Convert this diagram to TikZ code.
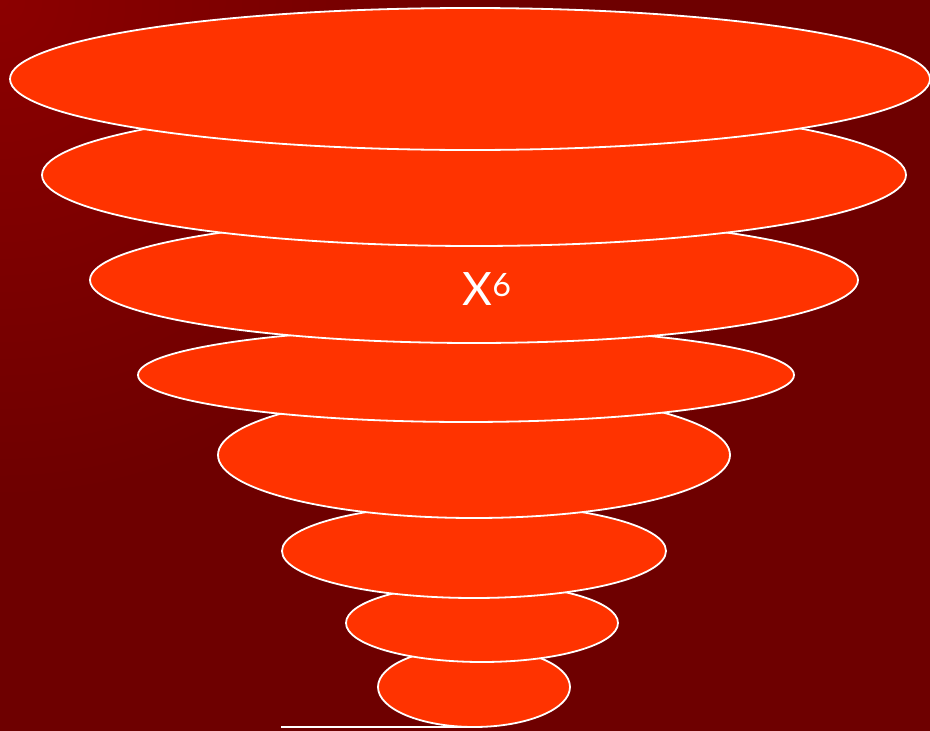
\documentclass[tikz,border=0pt]{standalone}
\usepackage{fontspec}
\setmainfont{Lato}
\definecolor{bgdark}{HTML}{6E0000}
\definecolor{bglight}{HTML}{8C0000}
\definecolor{layer}{HTML}{FF3300}
\tikzset{
  layerell/.style={draw=white, line width=1.8pt, fill=layer},
}
\begin{document}
\begin{tikzpicture}[x=1pt,y=-1pt]
\useasboundingbox (0,0) rectangle (930,731);
\fill[bgdark] (0,0) rectangle (930,731);
\begin{scope}
\clip (0,0) rectangle (930,731);
\shade[inner color=bglight, outer color=bgdark] (0,0) circle (500);
\end{scope}
\coordinate (la) at (281,727);
\coordinate (lb) at (470,727);
\draw[white, line width=1.8pt] (la) -- (lb);
\path[layerell] (474,687) ellipse [x radius=96, y radius=40];
\path[layerell] (482,623) ellipse [x radius=136, y radius=39];
\path[layerell] (474,551) ellipse [x radius=192, y radius=47];
\path[layerell] (474,455) ellipse [x radius=256, y radius=63];
\path[layerell] (466,375) ellipse [x radius=328, y radius=47];
\path[layerell] (474,280) ellipse [x radius=384, y radius=63];
\node[text=white, font=\fontsize{46}{46}\selectfont, inner sep=0pt] (x6) at (487,289) {X\textsuperscript{6}};
\path[layerell] (474,175) ellipse [x radius=432, y radius=71];
\path[layerell] (470,79) ellipse [x radius=460, y radius=71];
\end{tikzpicture}
\end{document}
